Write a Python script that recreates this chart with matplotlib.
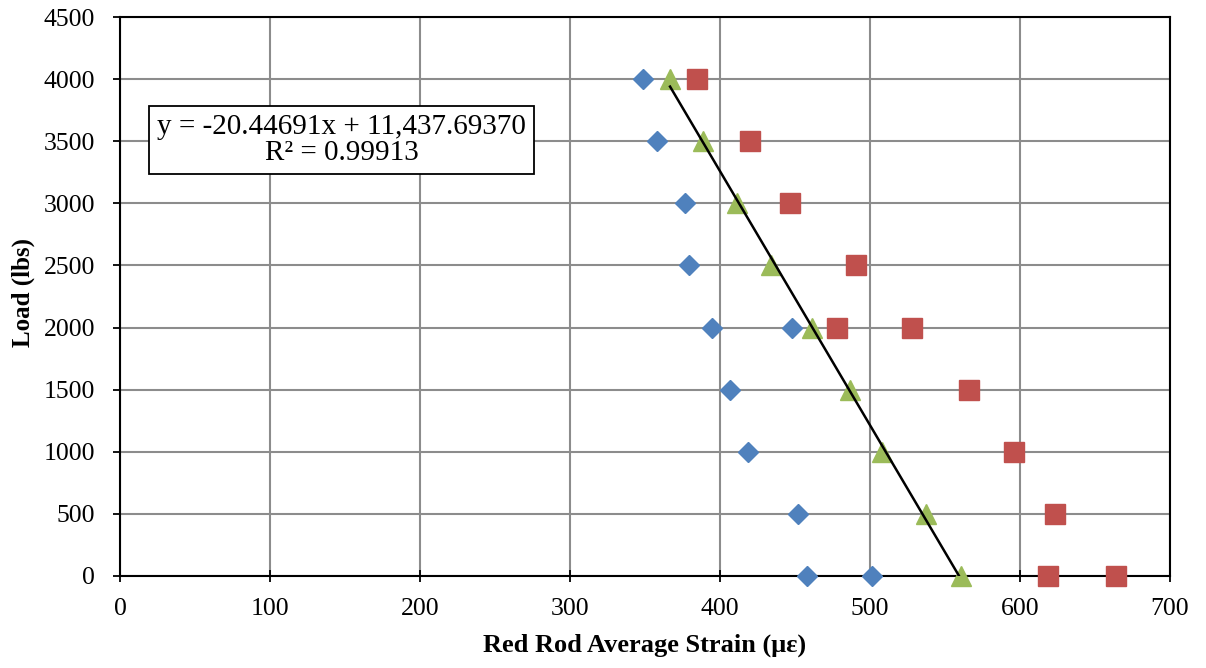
import numpy as np
import matplotlib
matplotlib.use("Agg")
import matplotlib.pyplot as plt

plt.rcParams['font.family'] = ['Liberation Serif', 'DejaVu Serif']

# Strain readings (microstrain) against applied load (lbs)
blue_strain = [348.4, 357.8, 376.7, 379.3, 394.4, 447.8, 406.7, 418.7, 451.8, 457.8, 501.6]
blue_load = [4000, 3500, 3000, 2500, 2000, 2000, 1500, 1000, 500, 0, 0]

red_strain = [384.4, 420.0, 446.7, 490.7, 477.8, 528.2, 566.2, 596.2, 623.3, 618.9, 663.8]
red_load = [4000, 3500, 3000, 2500, 2000, 2000, 1500, 1000, 500, 0, 0]

green_strain = [366.7, 388.9, 411.1, 434.0, 461.1, 486.7, 507.8, 537.3, 560.7]
green_load = [4000, 3500, 3000, 2500, 2000, 1500, 1000, 500, 0]

# Linear trend of the average-strain series
slope = -20.44691
intercept = 11437.69370
r_squared = 0.99913

x_ticks = [0, 100, 200, 300, 400, 500, 600, 700]
y_ticks = [0, 500, 1000, 1500, 2000, 2500, 3000, 3500, 4000, 4500]

fig = plt.figure(figsize=(12.06, 6.68), dpi=100)
ax = fig.add_axes([120 / 1206, 92 / 668, 1050 / 1206, 559 / 668])

ax.set_xlim(0, 700)
ax.set_ylim(0, 4500)
ax.set_xticks(x_ticks)
ax.set_yticks(y_ticks)
ax.grid(True, color='#8c8c8c', linewidth=1.5)
ax.set_axisbelow(True)
for s in ax.spines.values():
    s.set_color('black')
    s.set_linewidth(1.5)
ax.tick_params(axis='x', direction='inout', length=9, width=1.3,
               labelsize=18.5, colors='black', pad=11)
ax.tick_params(axis='y', direction='out', length=5, width=1.3,
               labelsize=18.5, colors='black', pad=13)

ax.plot(blue_strain, blue_load, linestyle='none', marker='D', markersize=10.4,
        color='#4F81BD', markeredgecolor='#4F81BD', zorder=3, clip_on=False)
ax.plot(red_strain, red_load, linestyle='none', marker='s', markersize=14,
        color='#C0504D', markeredgecolor='#C0504D', zorder=3, clip_on=False)
ax.plot(green_strain, green_load, linestyle='none', marker='^', markersize=14.4,
        color='#9BBB59', markeredgecolor='#9BBB59', zorder=3, clip_on=False)

xs = np.array([min(green_strain), max(green_strain)])
ax.plot(xs, slope * xs + intercept, color='black', linewidth=1.8, zorder=4)

ax.text(341.5 / 1206, 1 - 140 / 668,
        f"y = {slope:.5f}x + {intercept:,.5f}\nR² = {r_squared:.5f}",
        transform=fig.transFigure, ha='center', va='center', fontsize=21,
        multialignment='center', linespacing=1.05,
        bbox=dict(boxstyle='square,pad=0.27', facecolor='white',
                  edgecolor='black', linewidth=1.3))

ax.set_xlabel('Red Rod Average Strain (με)', fontsize=19, fontweight='bold')
ax.set_ylabel('Load (lbs)', fontsize=18, fontweight='bold')
ax.xaxis.set_label_coords(0.5, (576 - 634) / 559)
ax.yaxis.set_label_coords((35 - 120) / 1050, 0.507)

fig.savefig('out.png', dpi=100)
